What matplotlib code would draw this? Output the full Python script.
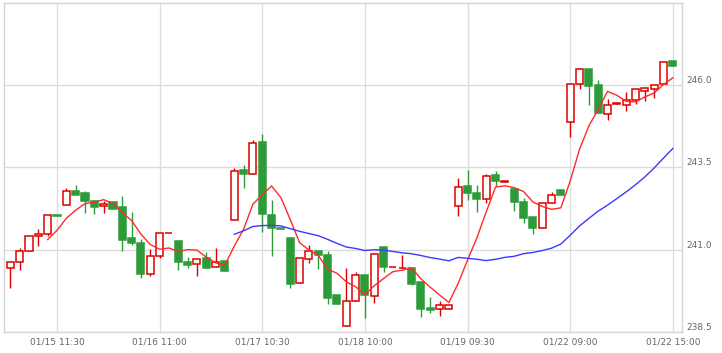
import numpy as np
import pandas as pd
import matplotlib
matplotlib.use("Agg")
import matplotlib.pyplot as plt
from matplotlib.patches import Rectangle

# 30-minute candles
opens = [240.44, 240.63, 240.96, 241.41, 241.48, 242.06, 242.36, 242.79, 242.71, 242.48,
         242.33, 242.45, 242.31, 241.36, 241.21, 240.25, 240.80, 241.50, 241.27, 240.63,
         240.56, 240.75, 240.47, 240.66, 241.91, 243.41, 243.31, 244.26, 242.07, 241.65,
         241.37, 239.98, 240.72, 240.96, 240.85, 239.63, 238.67, 239.44, 240.24, 239.59,
         241.09, 240.47, 240.45, 240.45, 240.02, 239.22, 239.19, 239.19, 242.33, 242.95,
         242.74, 242.55, 243.26, 243.05, 242.86, 242.46, 242.01, 241.66, 242.42, 242.82,
         244.89, 246.05, 246.48, 246.00, 245.14, 245.44, 245.41, 245.55, 245.84, 245.90,
         246.05, 246.75]

closes = [240.63, 240.96, 241.42, 241.48, 242.06, 242.02, 242.79, 242.66, 242.47, 242.29,
          242.40, 242.23, 241.31, 241.19, 240.25, 240.81, 241.51, 241.51, 240.64, 240.55,
          240.73, 240.45, 240.63, 240.34, 243.40, 243.31, 244.25, 242.08, 241.65, 241.63,
          239.97, 240.75, 240.96, 240.84, 239.52, 239.36, 239.44, 240.23, 239.62, 240.87,
          240.47, 240.48, 240.46, 239.97, 239.21, 239.18, 239.31, 239.31, 242.91, 242.73,
          242.55, 243.25, 243.09, 243.10, 242.44, 241.97, 241.66, 242.42, 242.65, 242.67,
          246.05, 246.48, 245.98, 245.15, 245.41, 245.45, 245.56, 245.89, 245.92, 246.02,
          246.71, 246.60]

highs = [240.63, 241.05, 241.42, 241.63, 242.06, 242.06, 242.88, 242.97, 242.79, 242.52,
         242.47, 242.45, 242.62, 242.15, 241.33, 241.01, 241.51, 241.51, 241.27, 240.79,
         240.73, 240.94, 241.05, 240.66, 243.49, 243.58, 244.35, 244.53, 242.50, 241.65,
         241.37, 240.75, 241.15, 240.96, 240.96, 239.63, 240.46, 240.32, 240.24, 240.91,
         241.09, 240.48, 240.84, 240.45, 240.02, 239.56, 239.44, 239.31, 243.19, 243.43,
         242.97, 243.29, 243.38, 243.10, 242.88, 242.58, 242.01, 242.42, 242.76, 242.82,
         246.08, 246.53, 246.48, 246.17, 245.58, 245.45, 245.79, 245.89, 245.92, 246.02,
         246.71, 246.75]

lows = [239.83, 240.38, 240.96, 241.11, 241.42, 242.02, 242.36, 242.66, 242.11, 242.08,
        242.12, 242.23, 240.97, 241.15, 240.14, 240.20, 240.75, 241.50, 240.38, 240.46,
        240.20, 240.45, 240.47, 240.34, 241.91, 242.89, 243.31, 241.55, 240.82, 241.63,
        239.83, 239.98, 240.59, 240.41, 239.36, 239.36, 238.67, 239.44, 238.94, 239.37,
        240.31, 240.47, 240.45, 239.92, 238.96, 239.08, 238.99, 239.19, 242.03, 242.52,
        242.14, 242.41, 242.95, 243.05, 242.18, 241.82, 241.49, 241.66, 242.42, 242.67,
        244.42, 245.89, 245.41, 245.15, 244.95, 245.44, 245.23, 245.43, 245.52, 245.61,
        246.05, 246.60]

tick_idx = [5, 16, 27, 38, 49, 60, 71]
tick_labels = ["01/15 11:30", "01/16 11:00", "01/17 10:30", "01/18 10:00",
               "01/19 09:30", "01/22 09:00", "01/22 15:00"]
price_ticks = [238.5, 241.0, 243.5, 246.0]

up_col = "#dd0000"
down_col = "#2e9b3a"

fig = plt.figure(figsize=(7.22, 3.53), dpi=100)
ax = fig.add_axes([0.0051, 0.0595, 0.9395, 0.932])

n = len(closes)
for i in range(n):
    o, c, h, l = opens[i], closes[i], highs[i], lows[i]
    up = c >= o
    col = up_col if up else down_col
    ax.vlines(i, l, h, color=col, lw=1.0, zorder=2)
    ax.add_patch(Rectangle((i - 0.38, min(o, c)), 0.76, abs(c - o),
                           facecolor="white" if up else down_col,
                           edgecolor=col, lw=1.1, zorder=3))

s = pd.Series(closes)
ax.plot(np.arange(n), s.rolling(5).mean(), color="#ff2a2a", lw=1.0, zorder=4)
ax.plot(np.arange(n), s.rolling(25).mean(), color="#3a3aff", lw=1.0, zorder=4)

ax.set_xlim(-0.71, 71.98)
ax.set_ylim(238.5, 248.5)
ax.set_xticks(tick_idx)
ax.set_xticklabels(tick_labels)
ax.set_yticks(price_ticks)
ax.set_yticklabels(["%.1f" % v for v in price_ticks])
ax.yaxis.tick_right()
ax.tick_params(length=0, labelsize=6.5, colors="#666666")
ax.tick_params(axis="x", pad=4)
ax.tick_params(axis="y", pad=3)
for lbl in ax.get_yticklabels():
    lbl.set_verticalalignment("bottom")

ax.set_axisbelow(True)
ax.grid(True, color="#dcdcdc", lw=1.0)
for sp in ax.spines.values():
    sp.set_color("#d4d4d4")
    sp.set_linewidth(1.0)

fig.savefig("out.png", dpi=100)
